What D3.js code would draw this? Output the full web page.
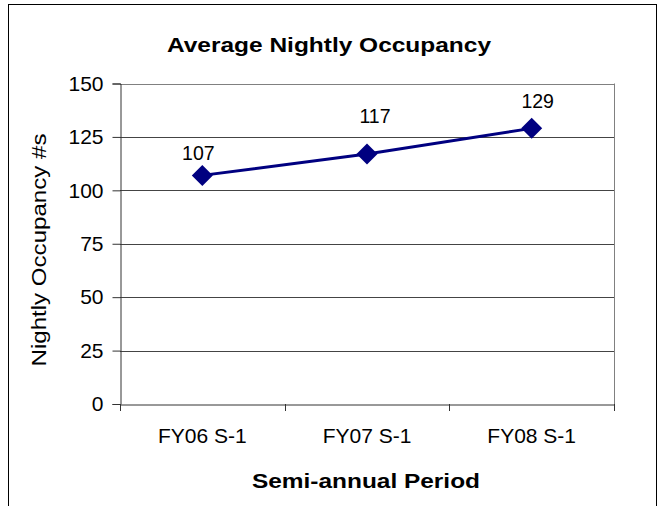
<!DOCTYPE html>
<html><head><meta charset="utf-8">
<script src="https://cdn.jsdelivr.net/npm/d3@7"></script>
<style>body{margin:0;background:#fff}svg{display:block}text{font-family:"Liberation Sans",Arial,sans-serif}</style>
</head><body><svg id="c" width="661" height="506"></svg>
<script>
const categories = ["FY06 S-1", "FY07 S-1", "FY08 S-1"];
const values = [107, 117, 129];
const yTicks = [0, 25, 50, 75, 100, 125, 150];

// label placement nudges (style, not data): [dx, baseline offset above point]
const labelNudge = [[-4, 15], [8, 31], [6, 20]];

const svg = d3.select("#c");
const m = {l: 120, r: 614, t: 83.5, b: 404};
svg.append("rect").attr("x", 8.5).attr("y", 4.5).attr("width", 648).attr("height", 520)
  .attr("fill", "#fff").attr("stroke", "#000").attr("stroke-width", 1);

const x = d3.scaleBand().domain(categories).range([m.l, m.r]);
const y = d3.scaleLinear().domain([0, 150]).range([m.b, m.t]);

// gridlines
svg.append("g").selectAll("line").data(yTicks.filter(d => d > 0)).join("line")
  .attr("x1", m.l).attr("x2", m.r).attr("y1", d => Math.round(y(d)) + 0.5).attr("y2", d => Math.round(y(d)) + 0.5)
  .attr("stroke", d => d === 150 ? "#808080" : "#444").attr("stroke-width", 1);
// right border
svg.append("line").attr("x1", m.r + 0.5).attr("x2", m.r + 0.5).attr("y1", m.t).attr("y2", m.b)
  .attr("stroke", "#808080");

// y axis
const ya = svg.append("g").attr("transform", `translate(${m.l + 0.5},0)`)
  .call(d3.axisLeft(y).tickValues(yTicks).tickSize(8).tickPadding(9));
ya.select(".domain").attr("stroke", "#333");
ya.selectAll(".tick line").attr("stroke", "#333");
ya.selectAll("text").attr("font-size", 21).attr("fill", "#000");

// x axis
const xa = svg.append("g").attr("transform", `translate(0,${m.b + 0.5})`)
  .call(d3.axisBottom(x).tickSize(0).tickPadding(24));
xa.select(".domain").attr("stroke", "#333");
xa.selectAll("text").attr("font-size", 21).attr("fill", "#000");
const bounds = categories.map(c => x(c)).concat([m.r]);
svg.append("g").selectAll("line").data(bounds).join("line")
  .attr("x1", d => Math.round(d) + 0.5).attr("x2", d => Math.round(d) + 0.5)
  .attr("y1", m.b).attr("y2", m.b + 7).attr("stroke", "#333");

// line
const cx = c => x(c) + x.bandwidth() / 2;
svg.append("path").datum(values).attr("fill", "none").attr("stroke", "#000080").attr("stroke-width", 3)
  .attr("d", d3.line().x((d, i) => cx(categories[i])).y(d => y(d)));
svg.append("g").selectAll("path").data(values).join("path")
  .attr("transform", (d, i) => `translate(${cx(categories[i])},${y(d)})`)
  .attr("d", "M0,-10.5L10.5,0L0,10.5L-10.5,0Z").attr("fill", "#000080");
svg.append("g").selectAll("text").data(values).join("text")
  .attr("x", (d, i) => cx(categories[i]) + labelNudge[i][0]).attr("y", (d, i) => y(d) - labelNudge[i][1])
  .attr("text-anchor", "middle").attr("font-size", 19.5).text(d => d);

// titles
svg.append("text").attr("x", 329).attr("y", 52).attr("text-anchor", "middle")
  .attr("font-size", 21).attr("font-weight", "bold")
  .attr("textLength", 324).attr("lengthAdjust", "spacingAndGlyphs").text("Average Nightly Occupancy");
svg.append("text").attr("x", 366).attr("y", 488).attr("text-anchor", "middle")
  .attr("font-size", 21).attr("font-weight", "bold")
  .attr("textLength", 228).attr("lengthAdjust", "spacingAndGlyphs").text("Semi-annual Period");
svg.append("text").attr("transform", "translate(46,250) rotate(-90)").attr("text-anchor", "middle")
  .attr("font-size", 19.5)
  .attr("textLength", 233).attr("lengthAdjust", "spacingAndGlyphs").text("Nightly Occupancy #s");
</script></body></html>
